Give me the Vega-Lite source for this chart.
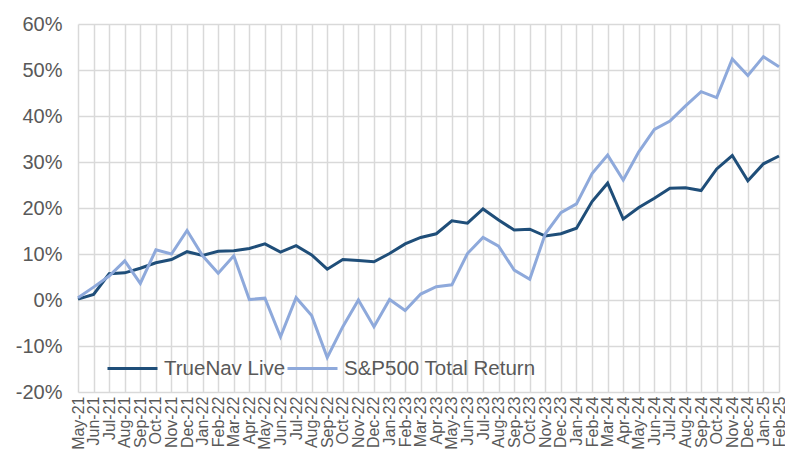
{
  "$schema": "https://vega.github.io/schema/vega-lite/v6.json",
  "autosize": {"type": "none"},
  "width": 701,
  "height": 368,
  "padding": {"left": 78, "top": 24, "right": 6, "bottom": 65},
  "background": "white",
  "config": {
    "view": {"stroke": null},
    "font": "Liberation Sans",
    "axis": {"labelFont": "Liberation Sans", "labelColor": "#595959", "gridColor": "#d9d9d9", "gridWidth": 1.5, "domain": false, "ticks": false}
  },
  "data": {
    "values": [
      {"m": "May-21", "s": "TrueNav Live", "v": 0.2},
      {"m": "Jun-21", "s": "TrueNav Live", "v": 1.2},
      {"m": "Jul-21", "s": "TrueNav Live", "v": 5.7},
      {"m": "Aug-21", "s": "TrueNav Live", "v": 5.9},
      {"m": "Sep-21", "s": "TrueNav Live", "v": 6.9},
      {"m": "Oct-21", "s": "TrueNav Live", "v": 8.1},
      {"m": "Nov-21", "s": "TrueNav Live", "v": 8.8},
      {"m": "Dec-21", "s": "TrueNav Live", "v": 10.5},
      {"m": "Jan-22", "s": "TrueNav Live", "v": 9.7},
      {"m": "Feb-22", "s": "TrueNav Live", "v": 10.6},
      {"m": "Mar-22", "s": "TrueNav Live", "v": 10.7},
      {"m": "Apr-22", "s": "TrueNav Live", "v": 11.2},
      {"m": "May-22", "s": "TrueNav Live", "v": 12.2},
      {"m": "Jun-22", "s": "TrueNav Live", "v": 10.4},
      {"m": "Jul-22", "s": "TrueNav Live", "v": 11.8},
      {"m": "Aug-22", "s": "TrueNav Live", "v": 9.8},
      {"m": "Sep-22", "s": "TrueNav Live", "v": 6.7},
      {"m": "Oct-22", "s": "TrueNav Live", "v": 8.8},
      {"m": "Nov-22", "s": "TrueNav Live", "v": 8.6},
      {"m": "Dec-22", "s": "TrueNav Live", "v": 8.3},
      {"m": "Jan-23", "s": "TrueNav Live", "v": 10.1},
      {"m": "Feb-23", "s": "TrueNav Live", "v": 12.2},
      {"m": "Mar-23", "s": "TrueNav Live", "v": 13.6},
      {"m": "Apr-23", "s": "TrueNav Live", "v": 14.4},
      {"m": "May-23", "s": "TrueNav Live", "v": 17.2},
      {"m": "Jun-23", "s": "TrueNav Live", "v": 16.7},
      {"m": "Jul-23", "s": "TrueNav Live", "v": 19.8},
      {"m": "Aug-23", "s": "TrueNav Live", "v": 17.4},
      {"m": "Sep-23", "s": "TrueNav Live", "v": 15.2},
      {"m": "Oct-23", "s": "TrueNav Live", "v": 15.4},
      {"m": "Nov-23", "s": "TrueNav Live", "v": 13.9},
      {"m": "Dec-23", "s": "TrueNav Live", "v": 14.4},
      {"m": "Jan-24", "s": "TrueNav Live", "v": 15.6},
      {"m": "Feb-24", "s": "TrueNav Live", "v": 21.4},
      {"m": "Mar-24", "s": "TrueNav Live", "v": 25.4},
      {"m": "Apr-24", "s": "TrueNav Live", "v": 17.6},
      {"m": "May-24", "s": "TrueNav Live", "v": 20.1},
      {"m": "Jun-24", "s": "TrueNav Live", "v": 22.1},
      {"m": "Jul-24", "s": "TrueNav Live", "v": 24.3},
      {"m": "Aug-24", "s": "TrueNav Live", "v": 24.4},
      {"m": "Sep-24", "s": "TrueNav Live", "v": 23.8},
      {"m": "Oct-24", "s": "TrueNav Live", "v": 28.5},
      {"m": "Nov-24", "s": "TrueNav Live", "v": 31.4},
      {"m": "Dec-24", "s": "TrueNav Live", "v": 25.9},
      {"m": "Jan-25", "s": "TrueNav Live", "v": 29.6},
      {"m": "Feb-25", "s": "TrueNav Live", "v": 31.3},
      {"m": "May-21", "s": "S&P500 Total Return", "v": 0.5},
      {"m": "Jun-21", "s": "S&P500 Total Return", "v": 2.8},
      {"m": "Jul-21", "s": "S&P500 Total Return", "v": 5.2},
      {"m": "Aug-21", "s": "S&P500 Total Return", "v": 8.5},
      {"m": "Sep-21", "s": "S&P500 Total Return", "v": 3.6},
      {"m": "Oct-21", "s": "S&P500 Total Return", "v": 10.9},
      {"m": "Nov-21", "s": "S&P500 Total Return", "v": 10.0},
      {"m": "Dec-21", "s": "S&P500 Total Return", "v": 15.1},
      {"m": "Jan-22", "s": "S&P500 Total Return", "v": 9.6},
      {"m": "Feb-22", "s": "S&P500 Total Return", "v": 5.8},
      {"m": "Mar-22", "s": "S&P500 Total Return", "v": 9.6},
      {"m": "Apr-22", "s": "S&P500 Total Return", "v": 0.1},
      {"m": "May-22", "s": "S&P500 Total Return", "v": 0.4},
      {"m": "Jun-22", "s": "S&P500 Total Return", "v": -8.0},
      {"m": "Jul-22", "s": "S&P500 Total Return", "v": 0.5},
      {"m": "Aug-22", "s": "S&P500 Total Return", "v": -3.4},
      {"m": "Sep-22", "s": "S&P500 Total Return", "v": -12.5},
      {"m": "Oct-22", "s": "S&P500 Total Return", "v": -5.8},
      {"m": "Nov-22", "s": "S&P500 Total Return", "v": 0.0},
      {"m": "Dec-22", "s": "S&P500 Total Return", "v": -5.8},
      {"m": "Jan-23", "s": "S&P500 Total Return", "v": 0.1},
      {"m": "Feb-23", "s": "S&P500 Total Return", "v": -2.3},
      {"m": "Mar-23", "s": "S&P500 Total Return", "v": 1.3},
      {"m": "Apr-23", "s": "S&P500 Total Return", "v": 2.9},
      {"m": "May-23", "s": "S&P500 Total Return", "v": 3.3},
      {"m": "Jun-23", "s": "S&P500 Total Return", "v": 10.1},
      {"m": "Jul-23", "s": "S&P500 Total Return", "v": 13.6},
      {"m": "Aug-23", "s": "S&P500 Total Return", "v": 11.7},
      {"m": "Sep-23", "s": "S&P500 Total Return", "v": 6.5},
      {"m": "Oct-23", "s": "S&P500 Total Return", "v": 4.5},
      {"m": "Nov-23", "s": "S&P500 Total Return", "v": 14.4},
      {"m": "Dec-23", "s": "S&P500 Total Return", "v": 19.0},
      {"m": "Jan-24", "s": "S&P500 Total Return", "v": 20.9},
      {"m": "Feb-24", "s": "S&P500 Total Return", "v": 27.5},
      {"m": "Mar-24", "s": "S&P500 Total Return", "v": 31.5},
      {"m": "Apr-24", "s": "S&P500 Total Return", "v": 26.1},
      {"m": "May-24", "s": "S&P500 Total Return", "v": 32.2},
      {"m": "Jun-24", "s": "S&P500 Total Return", "v": 37.1},
      {"m": "Jul-24", "s": "S&P500 Total Return", "v": 38.9},
      {"m": "Aug-24", "s": "S&P500 Total Return", "v": 42.2},
      {"m": "Sep-24", "s": "S&P500 Total Return", "v": 45.3},
      {"m": "Oct-24", "s": "S&P500 Total Return", "v": 44.0},
      {"m": "Nov-24", "s": "S&P500 Total Return", "v": 52.4},
      {"m": "Dec-24", "s": "S&P500 Total Return", "v": 48.8},
      {"m": "Jan-25", "s": "S&P500 Total Return", "v": 52.9},
      {"m": "Feb-25", "s": "S&P500 Total Return", "v": 50.7}
    ]
  },
  "mark": {"type": "line", "strokeWidth": 3, "strokeJoin": "miter", "strokeCap": "butt"},
  "encoding": {
    "x": {
      "field": "m", "type": "ordinal", "sort": null,
      "scale": {"type": "point", "padding": 0},
      "axis": {"title": null, "labelAngle": -90, "labelFontSize": 16, "labelPadding": 4, "grid": true}
    },
    "y": {
      "field": "v", "type": "quantitative",
      "scale": {"domain": [-20, 60], "nice": false},
      "axis": {"title": null, "values": [-20, -10, 0, 10, 20, 30, 40, 50, 60], "labelExpr": "datum.value + '%'", "labelFontSize": 20, "labelPadding": 16, "grid": true}
    },
    "color": {
      "field": "s", "type": "nominal", "sort": ["TrueNav Live", "S&P500 Total Return"],
      "scale": {"domain": ["TrueNav Live", "S&P500 Total Return"], "range": ["#1F4E79", "#8EA9DB"]},
      "legend": {
        "title": null, "orient": "none", "legendX": 28, "legendY": 318, "direction": "horizontal",
        "symbolType": "stroke", "symbolSize": 2500, "symbolStrokeWidth": 3,
        "labelFont": "Liberation Sans", "labelFontSize": 20.5, "labelColor": "#595959",
        "labelOffset": 5, "columnPadding": -9, "labelLimit": 400
      }
    }
  }
}
